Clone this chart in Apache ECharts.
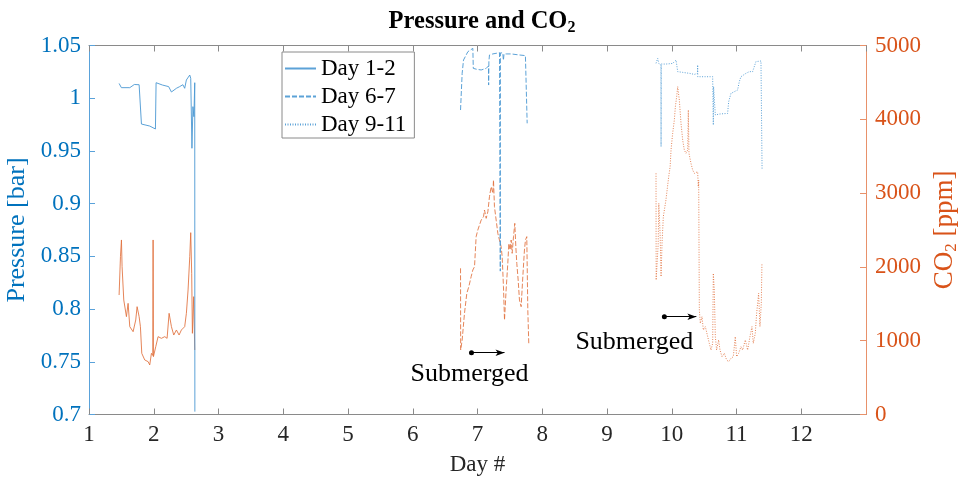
<!DOCTYPE html>
<html>
<head>
<meta charset="utf-8">
<script src="https://cdn.jsdelivr.net/npm/echarts@6/dist/echarts.min.js"></script>
<style>html,body{margin:0;padding:0;background:#fff}#c{width:964px;height:480px}</style>
</head>
<body>
<div id="c"></div>
<script>
// x ticks (days) and y ranges
const xTicks = [1,2,3,4,5,6,7,8,9,10,11,12];
const legendNames = ['Day 1-2','Day 6-7','Day 9-11'];

// Pressure [bar]  [day, value]
const p12 = [[1.465,1.014],[1.48,1.0147],[1.50,1.010],[1.63,1.010],[1.70,1.013],[1.722,1.0147],[1.774,1.0128],[1.80,1.011],[1.81,0.9755],[1.938,0.9736],[2.026,0.9708],[2.036,1.0147],[2.134,1.0125],[2.23,1.011],[2.273,1.0059],[2.35,1.0094],[2.40,1.011],[2.45,1.0128],[2.478,1.0094],[2.504,1.0173],[2.556,1.022],[2.571,1.0189],[2.59,0.9525],[2.605,0.992],[2.62,0.9825],[2.633,1.0147],[2.635,0.7027]];
const p67 = [[6.738,0.9888],[6.763,1.0236],[6.784,1.0362],[6.851,1.0441],[6.928,1.0473],[6.933,1.0463],[6.935,1.0283],[6.99,1.0274],[7.057,1.0268],[7.134,1.0283],[7.17,1.0306],[7.172,1.0125],[7.176,1.035],[7.185,1.041],[7.236,1.042],[7.34,1.0432],[7.35,1.043],[7.352,0.836],[7.354,1.043],[7.39,1.043],[7.40,1.036],[7.41,1.042],[7.443,1.042],[7.52,1.042],[7.648,1.041],[7.74,1.0404],[7.767,0.9762]];
const p911 = [[9.757,1.0331],[9.783,1.0378],[9.80,1.033],[9.834,1.0315],[9.835,0.954],[9.837,1.0324],[9.912,1.0324],[10.014,1.033],[10.066,1.0362],[10.092,1.0252],[10.169,1.0245],[10.272,1.0236],[10.349,1.0226],[10.398,1.0236],[10.40,1.0315],[10.402,1.0204],[10.426,1.0204],[10.529,1.0204],[10.632,1.0204],[10.642,0.9746],[10.646,1.011],[10.673,0.9841],[10.735,0.985],[10.863,0.9856],[10.879,0.9967],[10.915,1.0046],[10.966,1.0062],[11.017,1.0078],[11.043,1.0157],[11.069,1.0204],[11.146,1.0236],[11.198,1.0252],[11.249,1.0252],[11.275,1.0267],[11.30,1.0347],[11.378,1.0353],[11.393,1.0353],[11.395,0.9319]];

// CO2 [ppm]  [day, value]
const c12 = [[1.465,1619],[1.486,2139],[1.501,2365],[1.511,2003],[1.537,1551],[1.578,1326],[1.604,1506],[1.63,1190],[1.681,1122],[1.722,1281],[1.743,1461],[1.774,1326],[1.794,1190],[1.815,829],[1.861,739],[1.913,716],[1.938,671],[1.964,829],[1.985,800],[1.99,2365],[1.995,784],[2.031,919],[2.067,1055],[2.118,1032],[2.17,1055],[2.206,1032],[2.237,1371],[2.273,1190],[2.309,1077],[2.35,1145],[2.391,1077],[2.427,1145],[2.478,1190],[2.504,1371],[2.53,1687],[2.556,2139],[2.571,2464],[2.586,1913],[2.597,1100],[2.617,1597],[2.633,874]];
const c67 = [[6.738,1981],[6.740,874],[6.763,1009],[6.799,1371],[6.835,1642],[6.866,1732],[6.902,1868],[6.928,1958],[6.954,2003],[6.979,2410],[7.005,2500],[7.031,2568],[7.057,2635],[7.093,2681],[7.108,2771],[7.134,2658],[7.16,2748],[7.185,2952],[7.211,3087],[7.237,2997],[7.247,3177],[7.262,2816],[7.288,2635],[7.314,2455],[7.339,2364],[7.365,2274],[7.381,2139],[7.401,1732],[7.417,1280],[7.442,1687],[7.468,2048],[7.484,2319],[7.504,2229],[7.52,2364],[7.535,2184],[7.556,2410],[7.576,2590],[7.592,2274],[7.607,2048],[7.628,1822],[7.648,1551],[7.674,1461],[7.70,1868],[7.725,2229],[7.741,2364],[7.761,2410],[7.777,1416],[7.792,964]];
const c911 = [[9.757,3268],[9.759,1822],[9.79,2300],[9.80,2861],[9.82,2455],[9.835,1868],[9.85,2319],[9.87,2681],[9.91,2906],[9.953,3223],[9.975,3358],[9.989,3584],[10.014,3810],[10.04,3990],[10.056,4171],[10.076,4307],[10.092,4442],[10.107,4465],[10.117,4261],[10.143,3945],[10.169,3719],[10.194,3584],[10.22,3539],[10.246,3584],[10.256,4126],[10.266,3539],[10.297,3403],[10.323,3313],[10.349,3268],[10.374,3245],[10.40,3290],[10.41,3087],[10.416,3177],[10.426,1416],[10.441,1235],[10.467,1326],[10.488,1145],[10.519,1190],[10.555,1055],[10.58,964],[10.606,874],[10.632,964],[10.642,1913],[10.657,1687],[10.673,1055],[10.693,874],[10.724,1010],[10.745,874],[10.776,784],[10.812,829],[10.848,738],[10.879,716],[10.915,761],[10.951,784],[10.981,1055],[11.002,784],[11.033,829],[11.069,919],[11.095,874],[11.136,1010],[11.172,874],[11.208,1055],[11.239,1190],[11.259,964],[11.29,1100],[11.311,1371],[11.342,1642],[11.362,1190],[11.383,1507],[11.393,2048]];

// annotations [day, co2]
const arrow1 = [[6.907,837],[7.417,837]];
const arrow2 = [[9.886,1325],[10.38,1325]];
const label1 = [6.877,549];
const label2 = [9.423,986];

const FONT = "Liberation Serif";
const BLUE = '#0072BD', ORANGE = '#D95319';
const BLUE_L = '#4a98d3', ORANGE_L = '#e0703c';
const styles = ['solid',[5,2],[1,1.5]];

const chart = echarts.init(document.getElementById('c'), null, {renderer:'canvas'});

function pSeries(name, data, i){
  return {name, type:'line', data, xAxisIndex:0, yAxisIndex:0, symbol:'none', showSymbol:false,
    lineStyle:{color:BLUE_L, width:1, type:styles[i], opacity:0.9}, itemStyle:{color:BLUE_L}, z:3, silent:true};
}
function cSeries(name, data, i, extra){
  return Object.assign({name, type:'line', data, xAxisIndex:0, yAxisIndex:1, symbol:'none', showSymbol:false,
    lineStyle:{color:ORANGE_L, width:1, type:styles[i], opacity:0.85}, itemStyle:{color:ORANGE_L}, z:2, silent:true}, extra||{});
}
function annot(arrow, label){
  return {
    markLine:{silent:true, symbol:['circle','arrow'], symbolSize:[5,9], animation:false,
      lineStyle:{color:'#000', width:1, type:'solid', opacity:1}, label:{show:false},
      data:[[{coord:arrow[0]},{coord:arrow[1]}]]},
    markPoint:{silent:true, symbol:'circle', symbolSize:0, animation:false,
      label:{show:true, position:'inside', formatter:'Submerged', fontFamily:FONT, fontSize:26, color:'#000'},
      data:[{coord:label}]}
  };
}
function tickLabel(color, fmt, margin, extra){
  return Object.assign({fontFamily:FONT, fontSize:23, color, margin, fontStyle:'normal', fontWeight:'normal',
    formatter:v=>fmt(v)}, extra||{});
}

const option = {
  animation:false,
  backgroundColor:'#fff',
  textStyle:{fontFamily:FONT},
  title:{
    text:'{a|Pressure and CO}{b|2}', left:'center', top:3,
    textStyle:{fontFamily:FONT, rich:{
      a:{fontFamily:FONT, fontWeight:'bold', fontSize:24.5, color:'#000'},
      b:{fontFamily:FONT, fontWeight:'bold', fontSize:16, color:'#000', padding:[12,0,0,0]}
    }}
  },
  legend:{
    data:legendNames, orient:'vertical', left:282, top:52,
    padding:[5,8,2,2], itemGap:5, itemWidth:31, itemHeight:24,
    borderColor:'#8a8a8a', borderWidth:1, backgroundColor:'#fff',
    itemStyle:{opacity:0, borderWidth:0},
    textStyle:{fontFamily:FONT, fontSize:23, color:'#000'},
    selectedMode:false, z:10
  },
  grid:{left:89, right:98, top:45.5, bottom:65.5, containLabel:false, outerBoundsMode:'none'},
  xAxis:[{
    type:'value', min:1, max:13, interval:1, position:'bottom',
    name:'Day #', nameLocation:'middle', nameGap:39,
    nameTextStyle:{fontFamily:FONT, fontSize:23, color:'#262626'},
    axisLine:{show:true, lineStyle:{color:'#8a8a8a', width:1}},
    axisTick:{show:true, inside:true, length:6, lineStyle:{color:'#8a8a8a'}},
    axisLabel:tickLabel('#262626', v=> xTicks.indexOf(v) >= 0 ? String(v) : '', 9, {showMaxLabel:false}),
    splitLine:{show:false}
  },{
    type:'value', min:1, max:13, interval:1, position:'top',
    axisLine:{show:true, lineStyle:{color:'#8a8a8a', width:1}},
    axisTick:{show:true, inside:true, length:6, lineStyle:{color:'#8a8a8a'}},
    axisLabel:{show:false}, splitLine:{show:false}
  }],
  yAxis:[{
    type:'value', min:0.7, max:1.05, interval:0.05, position:'left',
    name:'Pressure [bar]', nameLocation:'middle', nameGap:55, nameRotate:90,
    nameTextStyle:{fontFamily:FONT, fontSize:26, color:BLUE},
    axisLine:{show:true, lineStyle:{color:'#5aa2da', width:1}},
    axisTick:{show:true, inside:true, length:6, lineStyle:{color:'#5aa2da'}},
    axisLabel:tickLabel(BLUE, v=>String(+v.toFixed(2)), 8),
    splitLine:{show:false}
  },{
    type:'value', min:0, max:5000, interval:1000, position:'right',
    name:'{a|CO}{b|2}{a| [ppm]}', nameLocation:'middle', nameGap:64, nameRotate:90,
    nameTextStyle:{fontFamily:FONT, rich:{
      a:{fontFamily:FONT, fontSize:27, color:ORANGE},
      b:{fontFamily:FONT, fontSize:17, color:ORANGE, padding:[12,0,0,0]}
    }},
    axisLine:{show:true, lineStyle:{color:'#e8916a', width:1}},
    axisTick:{show:true, inside:true, length:6, lineStyle:{color:'#e8916a'}},
    axisLabel:tickLabel(ORANGE, v=>String(v), 9),
    splitLine:{show:false}
  }],
  series:[
    cSeries('CO2 Day 1-2', c12, 0),
    cSeries('CO2 Day 6-7', c67, 1, annot(arrow1, label1)),
    cSeries('CO2 Day 9-11', c911, 2, annot(arrow2, label2)),
    pSeries(legendNames[0], p12, 0),
    pSeries(legendNames[1], p67, 1),
    pSeries(legendNames[2], p911, 2)
  ]
};
chart.setOption(option);
</script>
</body>
</html>
